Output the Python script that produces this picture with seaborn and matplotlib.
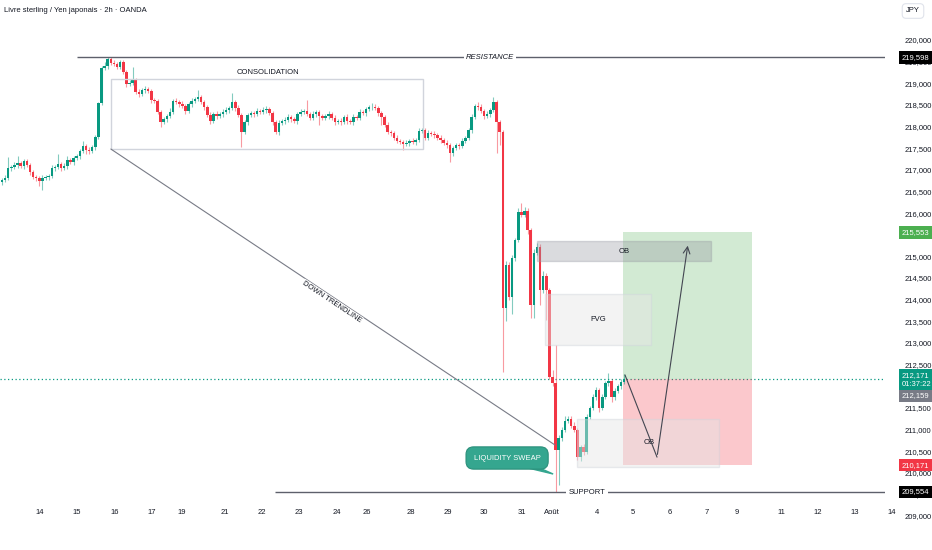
import matplotlib
matplotlib.use("Agg")
import matplotlib.pyplot as plt
import matplotlib.patches as mpatches
import numpy as np
import pandas as pd
import seaborn as sns

# GBP/JPY 2h candles (close of each bar)
closes = [
    216.76, 216.81, 217.04, 217.06, 217.11, 217.16, 217.09, 217.20, 217.11, 216.95,
    216.83, 216.81, 216.74, 216.81, 216.83, 216.86, 217.04, 217.06, 217.13, 217.04,
    217.09, 217.23, 217.18, 217.27, 217.32, 217.43, 217.55, 217.46, 217.43, 217.52,
    217.76, 218.54, 219.35, 219.40, 219.56, 219.47, 219.45, 219.38, 219.49, 219.26,
    218.98, 219.01, 219.08, 218.80, 218.75, 218.84, 218.87, 218.82, 218.61, 218.59,
    218.34, 218.10, 218.17, 218.24, 218.34, 218.59, 218.57, 218.52, 218.47, 218.36,
    218.52, 218.59, 218.64, 218.68, 218.57, 218.45, 218.27, 218.13, 218.29, 218.24,
    218.29, 218.34, 218.38, 218.43, 218.57, 218.43, 218.27, 217.87, 218.10, 218.27,
    218.31, 218.29, 218.36, 218.34, 218.38, 218.40, 218.31, 218.10, 217.87, 218.08,
    218.13, 218.15, 218.22, 218.17, 218.13, 218.29, 218.34, 218.36, 218.29, 218.20,
    218.29, 218.34, 218.24, 218.20, 218.24, 218.29, 218.20, 218.10, 218.13, 218.10,
    218.22, 218.13, 218.10, 218.22, 218.20, 218.34, 218.31, 218.40, 218.45, 218.45,
    218.43, 218.31, 218.22, 218.04, 217.87, 217.85, 217.74, 217.67, 217.64, 217.60,
    217.62, 217.67, 217.64, 217.69, 217.90, 217.92, 217.74, 217.85, 217.83, 217.80,
    217.74, 217.69, 217.62, 217.57, 217.39, 217.50, 217.57, 217.55, 217.67, 217.74,
    217.92, 218.22, 218.47, 218.45, 218.36, 218.24, 218.29, 218.38, 218.57, 218.10,
    217.87, 213.81, 214.80, 214.06, 214.96, 215.38, 216.02, 215.96, 216.05, 215.61,
    213.88, 215.08, 215.22, 214.22, 214.54, 214.22, 212.21, 212.07, 210.52, 210.80,
    210.99, 211.20, 211.24, 211.08, 210.99, 210.36, 210.59, 210.48, 211.29, 211.50,
    211.75, 211.91, 211.50, 211.75, 212.07, 212.12, 211.75, 211.89, 212.00, 212.10,
    212.17,
]
first_open = 216.72

# upper / lower wick length beyond the body (yen)
wick_up = [
    .05, .06, .26, .05, .06, .15, .05, .06, .05, .04,
    .05, .06, .05, .06, .05, .05, .06, .06, .24, .05,
    .06, .08, .05, .06, .05, .06, .12, .05, .06, .05,
    .04, .03, .04, .08, .04, .05, .06, .05, .05, .04,
    .05, .06, .30, .05, .06, .05, .06, .05, .04, .05,
    .05, .04, .06, .05, .08, .05, .06, .05, .06, .05,
    .05, .06, .05, .16, .05, .04, .05, .06, .05, .06,
    .05, .06, .06, .05, .20, .05, .06, .05, .06, .05,
    .06, .05, .06, .05, .06, .08, .05, .06, .05, .06,
    .05, .06, .06, .05, .06, .05, .06, .05, .25, .05,
    .06, .05, .05, .06, .05, .06, .05, .06, .05, .06,
    .05, .06, .05, .06, .05, .06, .05, .06, .05, .10,
    .06, .05, .06, .05, .06, .05, .05, .06, .05, .05,
    .06, .05, .06, .05, .06, .05, .05, .06, .05, .06,
    .05, .06, .05, .06, .05, .06, .05, .05, .06, .05,
    .05, .06, .05, .10, .06, .05, .06, .05, .12, .05,
    .05, .04, .10, .06, .08, .05, .10, .22, .08, .06,
    .05, .08, .10, .06, .12, .08, .04, .16, .88, .06,
    .06, .12, .08, .06, .10, .05, .06, .08, .06, .05,
    .06, .08, .05, .06, .06, .18, .05, .06, .05, .06,
    .10,
]
wick_dn = [
    .06, .05, .05, .06, .05, .06, .05, .06, .05, .06,
    .05, .06, .12, .20, .05, .06, .05, .06, .05, .06,
    .05, .06, .05, .06, .05, .06, .05, .10, .06, .05,
    .06, .05, .04, .05, .06, .05, .06, .05, .06, .05,
    .06, .05, .06, .05, .06, .05, .06, .05, .06, .05,
    .06, .10, .05, .06, .05, .06, .05, .06, .05, .06,
    .05, .06, .05, .06, .05, .06, .05, .08, .05, .06,
    .05, .06, .05, .06, .05, .06, .05, .34, .05, .06,
    .05, .06, .05, .06, .05, .06, .05, .06, .05, .06,
    .05, .06, .05, .06, .05, .06, .05, .06, .05, .06,
    .05, .06, .20, .06, .05, .06, .05, .06, .05, .06,
    .05, .06, .05, .06, .05, .06, .05, .06, .05, .06,
    .05, .06, .18, .06, .05, .06, .05, .06, .05, .15,
    .05, .06, .05, .06, .05, .06, .05, .06, .05, .06,
    .05, .06, .05, .06, .20, .06, .05, .06, .05, .06,
    .05, .06, .05, .06, .05, .06, .05, .06, .05, .71,
    .30, 1.48, .30, .06, .40, .06, .05, .06, .06, .10,
    .30, .30, .06, .35, .06, .70, .05, .06, .97, .80,
    .06, .06, .06, .05, .06, .06, .10, .06, .05, .06,
    .05, .06, .10, .06, .05, .06, .12, .06, .05, .06,
    .05,
]

date_labels = ["14", "15", "16", "17", "19", "21", "22", "23", "24", "26", "28", "29",
               "30", "31", "Août", "4", "5", "6", "7", "9", "11", "12", "13", "14"]
date_pos = [12.2, 24.1, 36.3, 48.2, 57.9, 71.7, 83.6, 95.5, 107.7, 117.4, 131.5, 143.4,
            155.0, 167.2, 176.8, 191.3, 202.9, 214.8, 226.7, 236.3, 250.5, 262.4, 274.3, 286.2]

resistance = 219.598
support = 209.554
last_price = 212.171
entry = 212.159
target = 215.553
stop = 210.171

GREEN = "#089981"
RED = "#f23645"
DARK = "#131722"

df = pd.DataFrame({"close": closes, "up": wick_up, "dn": wick_dn})
df["open"] = [first_open] + closes[:-1]
df["high"] = df[["open", "close"]].max(axis=1) + df["up"]
df["low"] = df[["open", "close"]].min(axis=1) - df["dn"]
df["bar"] = np.arange(len(df))
df["color"] = np.where(df["close"] >= df["open"], GREEN, RED)

sns.set_theme(style="white")
plt.rcParams["font.family"] = ["Liberation Sans", "DejaVu Sans"]

fig = plt.figure(figsize=(9.32, 5.5), dpi=100)
ax = fig.add_axes([0, 0, 885 / 932, 1])
ax.set_xlim(-0.64, 283.9)
ax.set_ylim(208.214, 220.924)
sns.despine(ax=ax, left=True, bottom=True)

# candles
ax.vlines(df["bar"], df["low"], df["high"], colors=df["color"], lw=0.8, alpha=0.5, zorder=2)
ax.bar(df["bar"], df["close"] - df["open"], bottom=df["open"], width=0.8,
       color=df["color"], linewidth=0, zorder=3)

# price axis on the right
ax.yaxis.tick_right()
ax.set_yticks(np.arange(209.0, 220.01, 0.5))
ax.set_yticklabels([f"{v:.3f}".replace(".", ",") for v in np.arange(209.0, 220.01, 0.5)])
ax.tick_params(axis="y", length=0, pad=14, labelsize=5.5, labelcolor=DARK)
ax.set_xticks([])
ax.grid(False)

# date labels
for lab, pos in zip(date_labels, date_pos):
    ax.text(pos, 1 - 513 / 550, lab, transform=ax.get_xaxis_transform(), ha="center",
            va="center", fontsize=5.5, color=DARK, clip_on=False)

# resistance / support
ax.hlines(resistance, 24.1, 283.9, color="#5d606b", lw=1, zorder=4)
ax.text(156.9, resistance, "RESISTANCE", ha="center", va="center", fontsize=5.5, style="italic",
        color=DARK, bbox=dict(boxstyle="square,pad=0.3", fc="white", ec="none"), zorder=5)
ax.hlines(support, 87.8, 283.9, color="#5d606b", lw=1, zorder=4)
ax.text(188.1, support, "SUPPORT", ha="center", va="center", fontsize=5.5,
        color=DARK, bbox=dict(boxstyle="square,pad=0.3", fc="white", ec="none"), zorder=5)

# current price dotted line
ax.axhline(last_price, color=GREEN, lw=0.9, ls=(0, (1, 2)), zorder=1)

# consolidation box
ax.add_patch(mpatches.Rectangle((35.0, 217.48), 100.4, 1.62, fc="none", ec="#d1d4dc", lw=1, zorder=4))
ax.text(85.5, 219.24, "CONSOLIDATION", ha="center", va="center", fontsize=5.5, color=DARK)

# down trendline
ax.plot([35.0, 177.8], [217.48, 210.64], color="#787b86", lw=0.8, zorder=4)
ax.text(106.1, 213.95, "DOWN TRENDLINE", ha="center", va="center", fontsize=5.5, rotation=-33.7,
        color=DARK, rotation_mode="anchor",
        bbox=dict(boxstyle="square,pad=0.1", fc="white", ec="none"), zorder=5)

# long position zones
ax.add_patch(mpatches.Rectangle((199.7, entry), 41.5, target - entry, fc="#4caf50", alpha=0.25,
                                ec="none", zorder=1))
ax.add_patch(mpatches.Rectangle((199.7, stop), 41.5, entry - stop, fc="#f23645", alpha=0.27,
                                ec="none", zorder=1))

# order blocks / fvg
ax.add_patch(mpatches.Rectangle((172.0, 214.89), 56.0, 0.465, fc="#9598a1", alpha=0.35,
                                ec="#9598a1", lw=1, zorder=6))
ax.text(200.0, 215.12, "OB", ha="center", va="center", fontsize=5.5, color=DARK, zorder=7)
ax.add_patch(mpatches.Rectangle((174.6, 212.95), 34.1, 1.18, fc="#e6e6e6", alpha=0.45,
                                ec="#d1d4dc", lw=1, zorder=6))
ax.text(191.6, 213.54, "FVG", ha="center", va="center", fontsize=5.5, color=DARK, zorder=7)
ax.add_patch(mpatches.Rectangle((184.9, 210.13), 45.6, 1.11, fc="#e6e6e6", alpha=0.45,
                                ec="#d1d4dc", lw=1, zorder=6))
ax.text(208.0, 210.69, "OB", ha="center", va="center", fontsize=5.5, color=DARK, zorder=7)

# projected path
ax.plot([200.3, 210.6], [212.26, 210.36], color="#434651", lw=0.8, zorder=8)
ax.annotate("", xy=(220.6, 215.31), xytext=(210.6, 210.36),
            arrowprops=dict(arrowstyle="->", color="#434651", lw=0.8), zorder=8)

# liquidity sweep callout
ax.add_patch(mpatches.Polygon([[168.5, 210.12], [172.5, 210.12], [177.2, 209.97]],
                              closed=True, fc="#35a68f", ec="#35a68f", zorder=8))
ax.text(162.4, 210.34, "LIQUIDITY SWEAP", ha="center", va="center", fontsize=5.5, color="white",
        bbox=dict(boxstyle="round,pad=1.0", fc="#35a68f", ec="#2b8f7a", lw=0.8), zorder=9)

# price tags on the scale
def tag(price, text, color, fg="white", va="center"):
    ax.text(902 / 885, price, text, transform=ax.get_yaxis_transform(), ha="left", va=va,
            fontsize=5.5, color=fg, linespacing=1.35, clip_on=False, zorder=10,
            bbox=dict(boxstyle="square,pad=0.35", fc=color, ec="none"))

tag(resistance, "219,598", "#000000")
tag(target, "215,553", "#4caf50")
tag(212.33, "212,171\n01:37:22", GREEN, va="top")
tag(211.78, "212,159", "#787b86")
tag(stop, "210,171", RED)
tag(support, "209,554", "#000000")

ax.text(4 / 885, 1 - 11 / 550, "Livre sterling / Yen japonais · 2h · OANDA", transform=ax.transAxes,
        ha="left", va="center", fontsize=5.5, color=DARK)
ax.text(913 / 885, 1 - 11 / 550, "JPY", transform=ax.transAxes, ha="center", va="center",
        fontsize=5.5, color=DARK, clip_on=False,
        bbox=dict(boxstyle="round,pad=0.5", fc="white", ec="#e0e3eb", lw=0.8))

fig.savefig("out.png", dpi=100)
